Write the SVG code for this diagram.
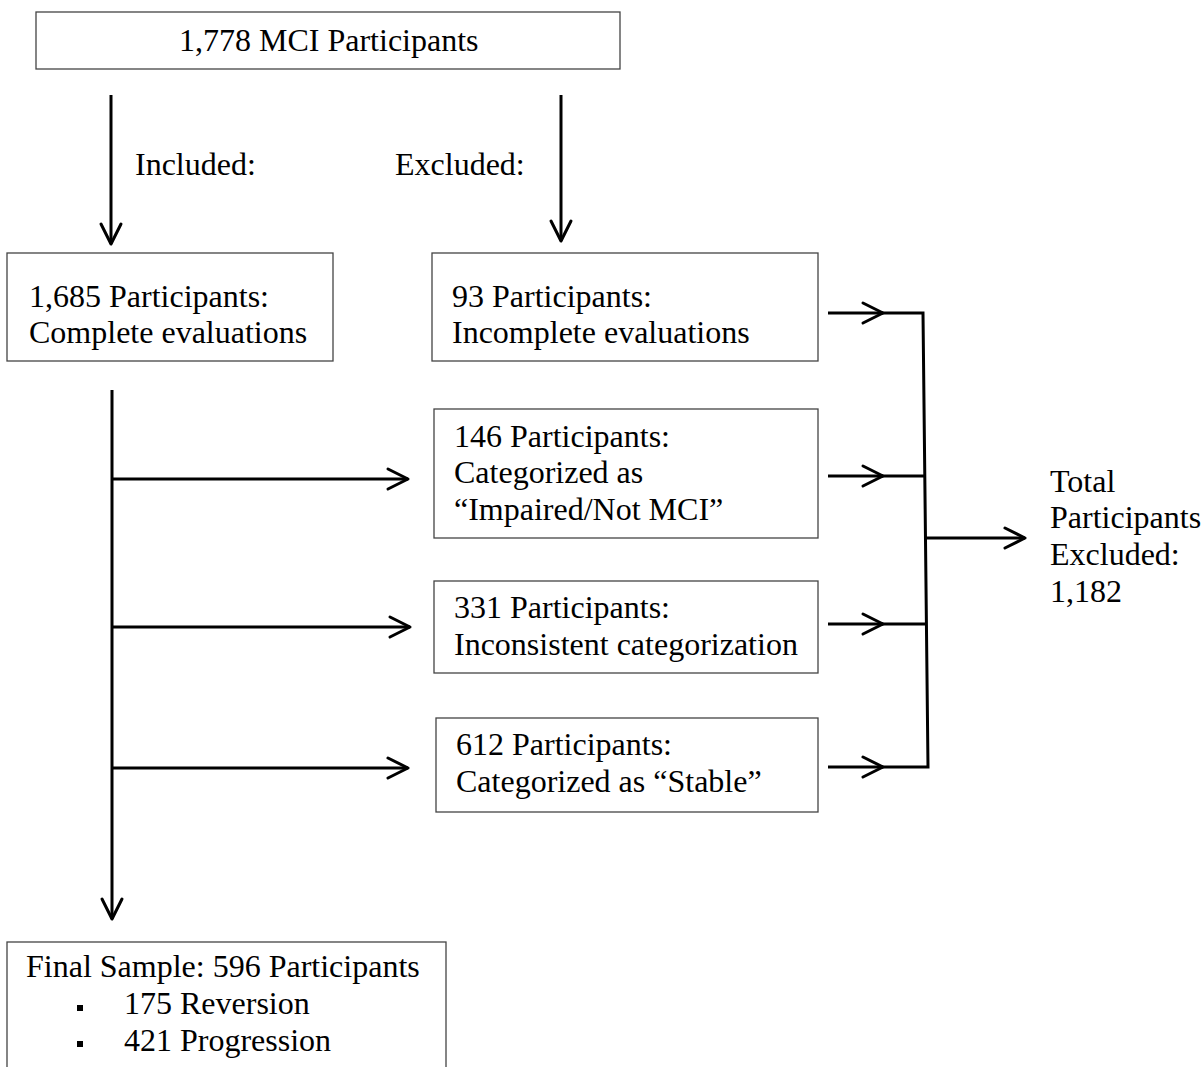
<svg xmlns="http://www.w3.org/2000/svg" width="1204" height="1067" viewBox="0 0 1204 1067">
<style>
.box{fill:#fff;stroke:#444;stroke-width:1.3}
.t{font-family:"Liberation Serif","Times New Roman",serif;font-size:32px;fill:#000}
.c{fill:none;stroke:#000;stroke-width:3;stroke-linecap:butt}
</style>
<defs>
<marker id="ah" markerUnits="userSpaceOnUse" viewBox="-24 -14 28 28" markerWidth="28" markerHeight="28" refX="0" refY="0" orient="auto">
<path d="M-20,-10 L0,0 L-20,10" fill="none" stroke="#000" stroke-width="3" stroke-linejoin="round" stroke-linecap="round"/>
</marker>
</defs>
<rect width="1204" height="1067" fill="#fff"/>
<g id="connectors">
<path class="c" d="M111,95 V244" marker-end="url(#ah)"/>
<path class="c" d="M561,95 V241" marker-end="url(#ah)"/>
<path class="c" d="M112,390 V919" marker-end="url(#ah)"/>
<path class="c" d="M112,479 H408" marker-end="url(#ah)"/>
<path class="c" d="M112,627 H410" marker-end="url(#ah)"/>
<path class="c" d="M112,768 H408" marker-end="url(#ah)"/>
<path class="c" d="M828,313 H883" marker-end="url(#ah)"/>
<path class="c" d="M828,476 H883" marker-end="url(#ah)"/>
<path class="c" d="M828,624 H883" marker-end="url(#ah)"/>
<path class="c" d="M828,767 H883" marker-end="url(#ah)"/>
<path class="c" d="M880,313 H923 L928,767 H880"/>
<path class="c" d="M880,476 H925"/>
<path class="c" d="M880,624 H926"/>
<path class="c" d="M926,538 H1025" marker-end="url(#ah)"/>
</g>
<g id="labels">
<text class="t" x="135" y="175">Included:</text>
<text class="t" x="395" y="175">Excluded:</text>
</g>
<g id="n-total">
<rect class="box" x="36" y="12" width="584" height="57"/>
<text class="t" x="179" y="51">1,778 MCI Participants</text>
</g>
<g id="n-complete">
<rect class="box" x="7" y="253" width="326" height="108"/>
<text class="t" x="29" y="307">1,685 Participants:</text>
<text class="t" x="29" y="343">Complete evaluations</text>
</g>
<g id="n-incomplete">
<rect class="box" x="432" y="253" width="386" height="108"/>
<text class="t" x="452" y="307">93 Participants:</text>
<text class="t" x="452" y="343">Incomplete evaluations</text>
</g>
<g id="n-impaired">
<rect class="box" x="434" y="409" width="384" height="129"/>
<text class="t" x="454" y="447">146 Participants:</text>
<text class="t" x="454" y="483">Categorized as</text>
<text class="t" x="454" y="520">“Impaired/Not MCI”</text>
</g>
<g id="n-inconsistent">
<rect class="box" x="434" y="581" width="384" height="92"/>
<text class="t" x="454" y="618">331 Participants:</text>
<text class="t" x="454" y="655">Inconsistent categorization</text>
</g>
<g id="n-stable">
<rect class="box" x="436" y="718" width="382" height="94"/>
<text class="t" x="456" y="755">612 Participants:</text>
<text class="t" x="456" y="792">Categorized as “Stable”</text>
</g>
<g id="n-excluded-total">
<text class="t" x="1050" y="492">Total</text>
<text class="t" x="1050" y="528">Participants</text>
<text class="t" x="1050" y="565">Excluded:</text>
<text class="t" x="1050" y="602">1,182</text>
</g>
<g id="n-final">
<rect class="box" x="7" y="942" width="439" height="135"/>
<text class="t" x="26" y="977">Final Sample: 596 Participants</text>
<rect x="77" y="1005" width="6" height="6" fill="#000"/>
<text class="t" x="124" y="1014">175 Reversion</text>
<rect x="77" y="1041" width="6" height="6" fill="#000"/>
<text class="t" x="124" y="1051">421 Progression</text>
</g>
</svg>
